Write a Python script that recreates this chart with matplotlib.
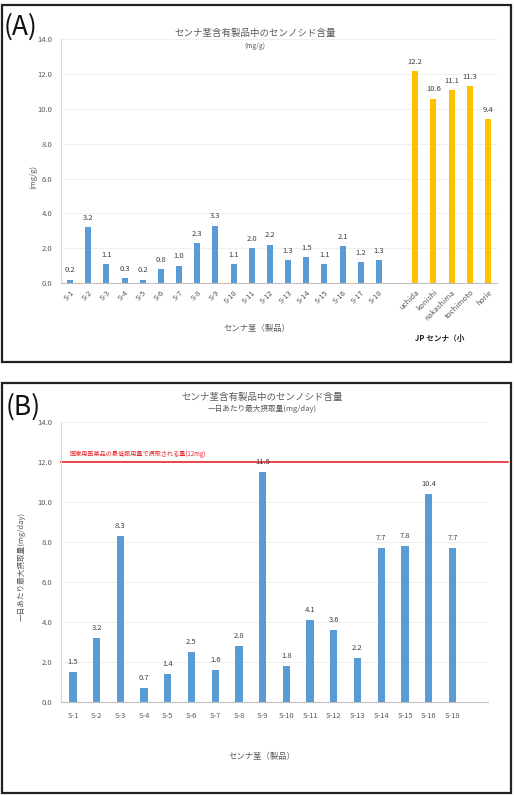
import matplotlib
matplotlib.use("Agg")
import matplotlib.pyplot as plt
from matplotlib.patches import Rectangle

plt.rcParams['font.family'] = ['Noto Sans CJK JP', 'DejaVu Sans']

# --- データ ---
# (A) センナ茎製品 と JP センナ（小葉）
cats_a = ["S-1", "S-2", "S-3", "S-4", "S-5", "S-6", "S-7", "S-8", "S-9",
          "S-10", "S-11", "S-12", "S-13", "S-14", "S-15", "S-16", "S-17", "S-18"]
vals_a = [0.2, 3.2, 1.1, 0.3, 0.2, 0.8, 1.0, 2.3, 3.3,
          1.1, 2.0, 2.2, 1.3, 1.5, 1.1, 2.1, 1.2, 1.3]
cats_jp = ["uchida", "konishi", "nakashima", "tochimoto", "horie"]
vals_jp = [12.2, 10.6, 11.1, 11.3, 9.4]

# (B) 一日あたり最大摂取量
cats_b = ["S-1", "S-2", "S-3", "S-4", "S-5", "S-6", "S-7", "S-8", "S-9",
          "S-10", "S-11", "S-12", "S-13", "S-14", "S-15", "S-16", "S-18"]
vals_b = [1.5, 3.2, 8.3, 0.7, 1.4, 2.5, 1.6, 2.8, 11.5,
          1.8, 4.1, 3.6, 2.2, 7.7, 7.8, 10.4, 7.7]
limit_b = 12.0

BLUE = "#5B9BD5"
GOLD = "#FFC000"
GRAY = "#595959"
W, H = 514, 795

fig = plt.figure(figsize=(W / 100, H / 100), dpi=100)


def fx(px):
    return px / W


def fy(py):
    return 1 - py / H


def style_axes(ax):
    ax.set_ylim(0, 14)
    ax.set_yticks([0, 2, 4, 6, 8, 10, 12, 14])
    ax.set_yticklabels([f"{v:.1f}" for v in [0, 2, 4, 6, 8, 10, 12, 14]])
    ax.grid(axis='y', color="#EDEDED", linewidth=0.6)
    ax.set_axisbelow(True)
    for s in ["top", "right"]:
        ax.spines[s].set_visible(False)
    ax.spines["left"].set_color("#D9D9D9")
    ax.spines["bottom"].set_color("#BFBFBF")
    ax.spines["left"].set_linewidth(0.8)
    ax.spines["bottom"].set_linewidth(0.8)
    ax.tick_params(length=0, labelsize=5.5, colors=GRAY, pad=6)


# 枠
for top, bot in [(5, 362), (383, 793)]:
    fig.patches.append(Rectangle((fx(2), fy(bot)), fx(509), (bot - top) / H,
                                 transform=fig.transFigure, fill=False,
                                 edgecolor="#222222", linewidth=1.6))

# ---------- (A) ----------
axA = fig.add_axes([fx(61), fy(283), fx(497 - 61), (283 - 39.4) / H])
style_axes(axA)
pos_a = list(range(len(cats_a)))
pos_jp = [len(cats_a) + 1 + i for i in range(len(cats_jp))]
axA.bar(pos_a, vals_a, width=0.33, color=BLUE)
axA.bar(pos_jp, vals_jp, width=0.33, color=GOLD)
for x, v in zip(pos_a + pos_jp, vals_a + vals_jp):
    axA.text(x, v + 0.3, f"{v:.1f}", ha='center', va='bottom', fontsize=5.5, color="#404040")
axA.set_xlim(-0.5, len(cats_a) + len(cats_jp) + 0.5)
axA.set_xticks(pos_a + pos_jp)
axA.set_xticklabels(cats_a + cats_jp, rotation=45, ha='right', rotation_mode='anchor')
axA.tick_params(axis='x', pad=4)

fig.text(fx(255), fy(33), "センナ茎含有製品中のセンノシド含量", ha='center', va='center',
         fontsize=6.8, color=GRAY)
fig.text(fx(255), fy(45.5), "(mg/g)", ha='center', va='center', fontsize=4.8, color=GRAY)
fig.text(fx(33), fy(177), "(mg/g)", ha='center', va='center', rotation=90,
         fontsize=5.5, color=GRAY)
fig.text(fx(257), fy(328), "センナ茎（製品）", ha='center', va='center', fontsize=6, color=GRAY)
fig.text(fx(440), fy(338), "JP センナ（小", ha='center', va='center', fontsize=5.5,
         color="#262626", fontweight='bold')
fig.text(fx(4), fy(27), "(A)", ha='left', va='center', fontsize=19, color="#111111")

# ---------- (B) ----------
axB = fig.add_axes([fx(61), fy(702), fx(488 - 61), (702 - 422) / H])
style_axes(axB)
pos_b = list(range(len(cats_b)))
axB.bar(pos_b, vals_b, width=0.31, color=BLUE)
for x, v in zip(pos_b, vals_b):
    axB.text(x, v + 0.3, f"{v:.1f}", ha='center', va='bottom', fontsize=5.5, color="#404040")
axB.set_xlim(-0.5, len(cats_b) + 0.5)
axB.set_xticks(pos_b)
axB.set_xticklabels(cats_b)
axB.tick_params(axis='x', pad=7)
axB.axhline(limit_b, xmin=0, xmax=(508 - 61) / (488 - 61), color="#E8262B",
            linewidth=1.2, clip_on=False)
axB.text(0.02, limit_b + 0.4, "医療用医薬品の最低服用量で摂取される量(12mg)",
         transform=axB.get_yaxis_transform(), ha='left', va='center',
         fontsize=4.4, color="#E8262B")

fig.text(fx(262), fy(397), "センナ茎含有製品中のセンノシド含量", ha='center', va='center',
         fontsize=6.8, color=GRAY)
fig.text(fx(262), fy(409), "一日あたり最大摂取量(mg/day)", ha='center', va='center',
         fontsize=5.5, color=GRAY)
fig.text(fx(22), fy(566), "一日あたり最大摂取量(mg/day)", ha='center', va='center',
         rotation=90, fontsize=5.5, color=GRAY)
fig.text(fx(262), fy(756), "センナ茎（製品）", ha='center', va='center', fontsize=6, color=GRAY)
fig.text(fx(6), fy(407), "(B)", ha='left', va='center', fontsize=19, color="#111111")

fig.savefig("out.png", dpi=100)
